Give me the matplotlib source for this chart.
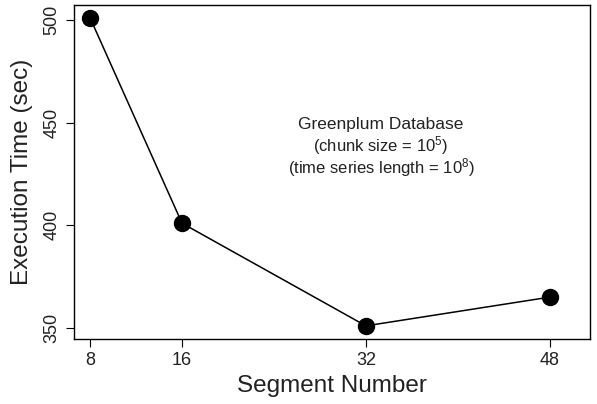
import matplotlib
matplotlib.use("Agg")
import matplotlib.pyplot as plt

segments = [8, 16, 32, 48]
exec_time = [501, 401, 351, 365]
xticks = [8, 16, 32, 48]
yticks = [350, 400, 450, 500]

plt.rcParams['font.family'] = ['Liberation Sans', 'DejaVu Sans']
plt.rcParams['mathtext.fontset'] = 'custom'
plt.rcParams['mathtext.rm'] = 'Liberation Sans'
plt.rcParams['mathtext.it'] = 'Liberation Sans'
plt.rcParams['mathtext.default'] = 'rm'

fig = plt.figure(figsize=(5.97, 4.04), dpi=100)
ax = fig.add_axes([74/597, 1-339/404, (590-74)/597, (339-5)/404])
ax.plot(segments, exec_time, color='black', linewidth=1.1, marker='o',
        markersize=11.5, markerfacecolor='black', markeredgecolor='black')
ax.set_xlim(6.6, 51.5)
ax.set_ylim(344.6, 507.3)
ax.set_xticks(xticks)
ax.set_xticklabels([str(v) for v in xticks], fontsize=13)
ax.set_yticks(yticks)
ax.set_yticklabels([str(v) for v in yticks], fontsize=13, rotation=90, va='center')
ax.tick_params(direction='out', length=6, width=0.8, colors='black', labelcolor='#222222')
for s in ax.spines.values():
    s.set_linewidth(1.0)
ax.set_xlabel('Segment Number', fontsize=17.5, labelpad=4, color='#222222')
ax.set_ylabel('Execution Time (sec)', fontsize=17.5, labelpad=8, color='#222222')
fig.text(381/597, 1-124/404, 'Greenplum Database', fontsize=12.5, ha='center', va='center', color='#222222')
fig.text(381/597, 1-146/404, r'(chunk size = 10$^5$)', fontsize=12, ha='center', va='center', color='#222222')
fig.text(381/597, 1-168/404, r'(time series length = 10$^8$)', fontsize=12, ha='center', va='center', color='#222222')
fig.savefig('out.png', dpi=100)
